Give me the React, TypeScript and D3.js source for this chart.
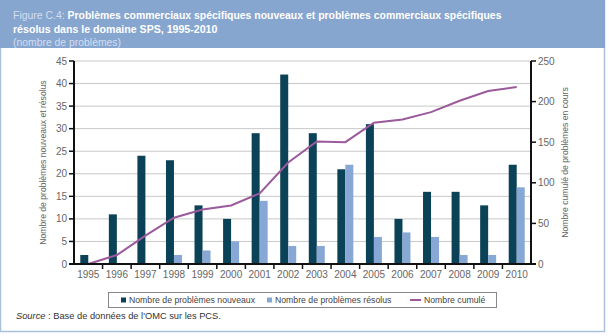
import React, { useEffect, useRef } from "react";
import * as d3 from "d3";

const years = ["1995","1996","1997","1998","1999","2000","2001","2002","2003","2004","2005","2006","2007","2008","2009","2010"];
const newIssues = [2, 11, 24, 23, 13, 10, 29, 42, 29, 21, 31, 10, 16, 16, 13, 22];
const resolvedIssues = [0, 0, 0, 2, 3, 5, 14, 4, 4, 22, 6, 7, 6, 2, 2, 17];
const cumulative = [0, 11, 35, 57, 67, 72, 87, 125, 151, 150, 174, 178, 187, 201, 213, 218];
const leftTicks = [0, 5, 10, 15, 20, 25, 30, 35, 40, 45];
const rightTicks = [0, 50, 100, 150, 200, 250];

const DARK = "#0b4257";
const LIGHT = "#87a8d4";
const LINE = "#9a5a9c";
const BAND = "#87a6cf";
const FONT = "Liberation Sans, Arial, sans-serif";

export default function App() {
  const ref = useRef<SVGSVGElement>(null);
  useEffect(() => {
    const svg = d3.select(ref.current);
    svg.selectAll("*").remove();
    const left = 74, right = 531, top = 61, bottom = 264;

    svg.append("rect").attr("x", 0.5).attr("y", 0.5).attr("width", 604).attr("height", 331)
      .attr("fill", "#fff").attr("stroke", "#a9c0de").attr("stroke-width", 1.5);
    svg.append("rect").attr("x", 0).attr("y", 0).attr("width", 605).attr("height", 48).attr("fill", BAND);

    const title = svg.append("text").attr("x", 13).attr("y", 19).attr("font-family", FONT).attr("font-size", 10.45);
    title.append("tspan").attr("fill", "#d3def0").text("Figure C.4: ");
    title.append("tspan").attr("fill", "#fff").attr("font-weight", "bold").text("Problèmes commerciaux spécifiques nouveaux et problèmes commerciaux spécifiques");
    svg.append("text").attr("x", 13).attr("y", 33).attr("font-family", FONT).attr("font-size", 10.6)
      .attr("fill", "#fff").attr("font-weight", "bold").text("résolus dans le domaine SPS, 1995-2010");
    svg.append("text").attr("x", 13).attr("y", 46).attr("font-family", FONT).attr("font-size", 10.4)
      .attr("fill", "#d3def0").text("(nombre de problèmes)");

    const x = d3.scaleBand<string>().domain(years).range([left, right]);
    const yL = d3.scaleLinear().domain([0, 45]).range([bottom, top]);
    const yR = d3.scaleLinear().domain([0, 250]).range([bottom, top]);

    const g = svg.append("g");
    g.selectAll("line.grid").data(leftTicks.slice(1)).enter().append("line")
      .attr("x1", left).attr("x2", right).attr("y1", d => yL(d)).attr("y2", d => yL(d))
      .attr("stroke", "#c8c8c8").attr("stroke-width", 1);

    const bw = 8;
    g.selectAll("rect.new").data(newIssues).enter().append("rect")
      .attr("x", (d, i) => x(years[i])! + x.bandwidth() / 2 - bw)
      .attr("y", d => yL(d)).attr("width", bw).attr("height", d => bottom - yL(d)).attr("fill", DARK);
    g.selectAll("rect.res").data(resolvedIssues).enter().append("rect")
      .attr("x", (d, i) => x(years[i])! + x.bandwidth() / 2)
      .attr("y", d => yL(d)).attr("width", bw).attr("height", d => bottom - yL(d)).attr("fill", LIGHT);

    const line = d3.line<number>().x((d, i) => x(years[i])! + x.bandwidth() / 2).y(d => yR(d));
    g.append("path").attr("d", line(cumulative)).attr("fill", "none").attr("stroke", LINE).attr("stroke-width", 2);

    const axisColor = "#111";
    const tickColor = "#666";
    g.append("line").attr("x1", left).attr("x2", left).attr("y1", top).attr("y2", bottom).attr("stroke", axisColor).attr("stroke-width", 2);
    g.append("line").attr("x1", right).attr("x2", right).attr("y1", top).attr("y2", bottom).attr("stroke", axisColor).attr("stroke-width", 2);
    g.append("line").attr("x1", left - 5).attr("x2", right + 5).attr("y1", bottom).attr("y2", bottom).attr("stroke", axisColor).attr("stroke-width", 2);

    leftTicks.forEach(t => {
      g.append("line").attr("x1", left - 5).attr("x2", left).attr("y1", yL(t)).attr("y2", yL(t)).attr("stroke", axisColor).attr("stroke-width", 1.5);
      g.append("text").attr("x", left - 7).attr("y", yL(t) + 3.5).attr("text-anchor", "end")
        .attr("font-family", FONT).attr("font-size", 10).attr("fill", tickColor).text(String(t));
    });
    rightTicks.forEach(t => {
      g.append("line").attr("x1", right).attr("x2", right + 5).attr("y1", yR(t)).attr("y2", yR(t)).attr("stroke", axisColor).attr("stroke-width", 1.5);
      g.append("text").attr("x", right + 7).attr("y", yR(t) + 3.5).attr("text-anchor", "start")
        .attr("font-family", FONT).attr("font-size", 10).attr("fill", tickColor).text(String(t));
    });
    years.forEach((y, i) => {
      const xb = x(y)!;
      if (i > 0) g.append("line").attr("x1", xb).attr("x2", xb).attr("y1", bottom).attr("y2", bottom + 5).attr("stroke", axisColor).attr("stroke-width", 1.5);
      g.append("text").attr("x", xb + x.bandwidth() / 2).attr("y", bottom + 14).attr("text-anchor", "middle")
        .attr("font-family", FONT).attr("font-size", 10).attr("fill", tickColor).text(y);
    });

    g.append("text").attr("transform", `translate(46,${(top + bottom) / 2}) rotate(-90)`).attr("text-anchor", "middle")
      .attr("font-family", FONT).attr("font-size", 8.6).attr("fill", tickColor).text("Nombre de problèmes nouveaux et résolus");
    g.append("text").attr("transform", `translate(568,${(top + bottom) / 2}) rotate(-90)`).attr("text-anchor", "middle")
      .attr("font-family", FONT).attr("font-size", 8.6).attr("fill", tickColor).text("Nombre cumulé de problèmes en cours");

    const lg = svg.append("g");
    const lf = 8.7;
    lg.append("rect").attr("x", 108.5).attr("y", 292.5).attr("width", 388).attr("height", 15).attr("fill", "#fff").attr("stroke", "#888");
    lg.append("rect").attr("x", 121).attr("y", 297.5).attr("width", 5).attr("height", 5).attr("fill", DARK);
    lg.append("text").attr("x", 129).attr("y", 303.3).attr("font-family", FONT).attr("font-size", lf).attr("fill", "#444").text("Nombre de problèmes nouveaux");
    lg.append("rect").attr("x", 267).attr("y", 297.5).attr("width", 5).attr("height", 5).attr("fill", LIGHT);
    lg.append("text").attr("x", 275).attr("y", 303.3).attr("font-family", FONT).attr("font-size", lf).attr("fill", "#444").text("Nombre de problèmes résolus");
    lg.append("line").attr("x1", 410).attr("x2", 421).attr("y1", 300).attr("y2", 300).attr("stroke", LINE).attr("stroke-width", 2);
    lg.append("text").attr("x", 424).attr("y", 303.3).attr("font-family", FONT).attr("font-size", lf).attr("fill", "#444").text("Nombre cumulé");

    const src = svg.append("text").attr("x", 16).attr("y", 319).attr("font-family", FONT).attr("font-size", 9.3).attr("fill", "#333");
    src.append("tspan").attr("font-style", "italic").text("Source");
    src.append("tspan").text(" : Base de données de l'OMC sur les PCS.");
  }, []);
  return (
    <svg ref={ref} width={612} height={336} style={{ position: "absolute", left: 0, top: 0 }} />
  );
}
